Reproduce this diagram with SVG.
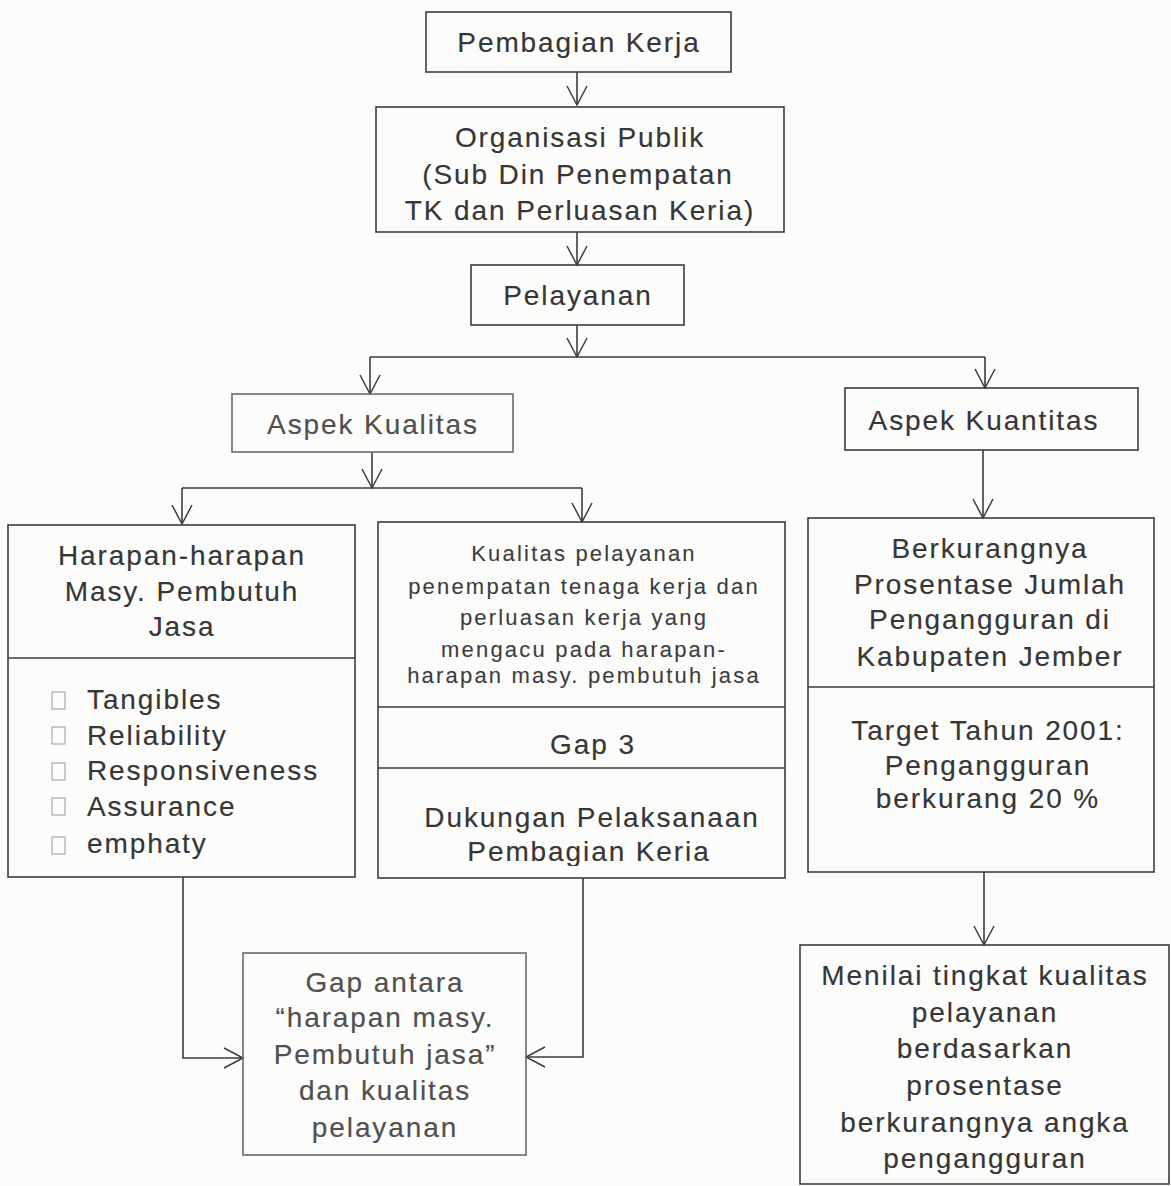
<svg xmlns="http://www.w3.org/2000/svg" width="1171" height="1186" viewBox="0 0 1171 1186">
  <style>
    .box { fill: none; stroke: #3c3c3c; stroke-width: 1.6; }
    .pale { stroke: #6a6a6a; }
    .div { stroke: #3c3c3c; stroke-width: 1.6; }
    .t { font-family: "Liberation Sans", Arial, sans-serif; font-size: 28px; letter-spacing: 1.9px; fill: #363636; stroke: #363636; stroke-width: 0.15; text-anchor: middle; }
    .s { font-family: "Liberation Sans", Arial, sans-serif; font-size: 22px; letter-spacing: 2.2px; fill: #3c3c3c; stroke: #3c3c3c; stroke-width: 0.1; text-anchor: middle; }
    .li { text-anchor: start; }
    .light { fill: #505050; stroke: #505050; }
    .bullet { fill: none; stroke: #9a9a9a; stroke-width: 1; }
    .wire { fill: none; stroke: #3c3c3c; stroke-width: 1.6; }
  </style>
  <defs>
    <marker id="v" viewBox="-21 -12 24 24" markerWidth="24" markerHeight="24" refX="0" refY="0" orient="auto" markerUnits="userSpaceOnUse">
      <path d="M-19,-10 L0,0 L-19,10" fill="none" stroke="#3c3c3c" stroke-width="1.5"/>
    </marker>
    <clipPath id="clipDukungan">
      <rect x="378" y="768" width="407" height="98"/>
    </clipPath>
  </defs>

  <rect width="1171" height="1186" fill="#fcfcfa"/>

  <!-- connectors -->
  <g id="connectors">
    <path class="wire" d="M577,72 V105" marker-end="url(#v)"/>
    <path class="wire" d="M577,232 V265" marker-end="url(#v)"/>
    <path class="wire" d="M577,325 V357" marker-end="url(#v)"/>
    <path class="wire" d="M370,357 H985"/>
    <path class="wire" d="M370,357 V394" marker-end="url(#v)"/>
    <path class="wire" d="M985,357 V388" marker-end="url(#v)"/>
    <path class="wire" d="M372,452 V488" marker-end="url(#v)"/>
    <path class="wire" d="M182,488 H582"/>
    <path class="wire" d="M182,488 V524" marker-end="url(#v)"/>
    <path class="wire" d="M582,488 V522" marker-end="url(#v)"/>
    <path class="wire" d="M983,450 V518" marker-end="url(#v)"/>
    <path class="wire" d="M984,872 V945" marker-end="url(#v)"/>
    <path class="wire" d="M183,877 V1058 H243" marker-end="url(#v)"/>
    <path class="wire" d="M583,878 V1057 H526" marker-end="url(#v)"/>
  </g>

  <!-- top chain -->
  <g id="pembagian-kerja">
    <rect class="box" x="426" y="12" width="305" height="60"/>
    <text class="t" x="579" y="52">Pembagian Kerja</text>
  </g>

  <g id="organisasi-publik">
    <rect class="box" x="376" y="107" width="408" height="125"/>
    <text class="t" x="580" y="147">Organisasi Publik</text>
    <text class="t" x="578" y="184">(Sub Din Penempatan</text>
    <text class="t" x="580" y="220">TK dan Perluasan Keria)</text>
  </g>

  <g id="pelayanan">
    <rect class="box" x="471" y="265" width="213" height="60"/>
    <text class="t" x="578" y="305">Pelayanan</text>
  </g>

  <!-- aspects -->
  <g id="aspek-kualitas">
    <rect class="box pale" x="232" y="394" width="281" height="58"/>
    <text class="t light" x="373" y="434">Aspek Kualitas</text>
  </g>

  <g id="aspek-kuantitas">
    <rect class="box" x="845" y="388" width="293" height="62"/>
    <text class="t" x="984" y="430">Aspek Kuantitas</text>
  </g>

  <!-- expectations -->
  <g id="harapan">
    <rect class="box" x="8" y="525" width="347" height="352"/>
    <line class="div" x1="8" y1="658" x2="355" y2="658"/>
    <text class="t" x="182" y="565">Harapan-harapan</text>
    <text class="t" x="182" y="601">Masy. Pembutuh</text>
    <text class="t" x="182" y="636">Jasa</text>
    <rect class="bullet" x="52" y="692" width="13" height="17"/>
    <rect class="bullet" x="52" y="727" width="13" height="17"/>
    <rect class="bullet" x="52" y="763" width="13" height="17"/>
    <rect class="bullet" x="52" y="798" width="13" height="17"/>
    <rect class="bullet" x="52" y="837" width="13" height="17"/>
    <text class="t li" x="87" y="709">Tangibles</text>
    <text class="t li" x="87" y="745">Reliability</text>
    <text class="t li" x="87" y="780">Responsiveness</text>
    <text class="t li" x="87" y="816">Assurance</text>
    <text class="t li" x="87" y="853">emphaty</text>
  </g>

  <!-- service quality -->
  <g id="kualitas-pelayanan">
    <rect class="box" x="378" y="522" width="407" height="356"/>
    <line class="div" x1="378" y1="707" x2="785" y2="707"/>
    <line class="div" x1="378" y1="768" x2="785" y2="768"/>
    <text class="s" x="584" y="561">Kualitas pelayanan</text>
    <text class="s" x="584" y="594">penempatan tenaga kerja dan</text>
    <text class="s" x="584" y="625">perluasan kerja yang</text>
    <text class="s" x="584" y="657">mengacu pada harapan-</text>
    <text class="s" x="584" y="683">harapan masy. pembutuh jasa</text>
    <text class="t" x="593" y="754">Gap 3</text>
    <g clip-path="url(#clipDukungan)">
      <text class="t" x="592" y="827">Dukungan Pelaksanaan</text>
      <text class="t" x="589" y="861">Pembagian Keria</text>
    </g>
  </g>

  <!-- quantity -->
  <g id="berkurangnya">
    <rect class="box" x="808" y="518" width="346" height="354"/>
    <line class="div" x1="808" y1="687" x2="1154" y2="687"/>
    <text class="t" x="990" y="558">Berkurangnya</text>
    <text class="t" x="990" y="594">Prosentase Jumlah</text>
    <text class="t" x="990" y="629">Pengangguran di</text>
    <text class="t" x="990" y="666">Kabupaten Jember</text>
    <text class="t" x="988" y="740">Target Tahun 2001:</text>
    <text class="t" x="988" y="775">Pengangguran</text>
    <text class="t" x="988" y="808">berkurang 20 %</text>
  </g>

  <!-- gap result -->
  <g id="gap-antara">
    <rect class="box pale" x="243" y="953" width="283" height="202"/>
    <text class="t light" x="385" y="992">Gap antara</text>
    <text class="t light" x="385" y="1027">“harapan masy.</text>
    <text class="t light" x="385" y="1064">Pembutuh jasa”</text>
    <text class="t light" x="385" y="1100">dan kualitas</text>
    <text class="t light" x="385" y="1137">pelayanan</text>
  </g>

  <g id="menilai">
    <rect class="box" x="800" y="945" width="369" height="239"/>
    <text class="t" x="985" y="985">Menilai tingkat kualitas</text>
    <text class="t" x="985" y="1022">pelayanan</text>
    <text class="t" x="985" y="1058">berdasarkan</text>
    <text class="t" x="985" y="1095">prosentase</text>
    <text class="t" x="985" y="1132">berkurangnya angka</text>
    <text class="t" x="985" y="1168">pengangguran</text>
  </g>
</svg>
